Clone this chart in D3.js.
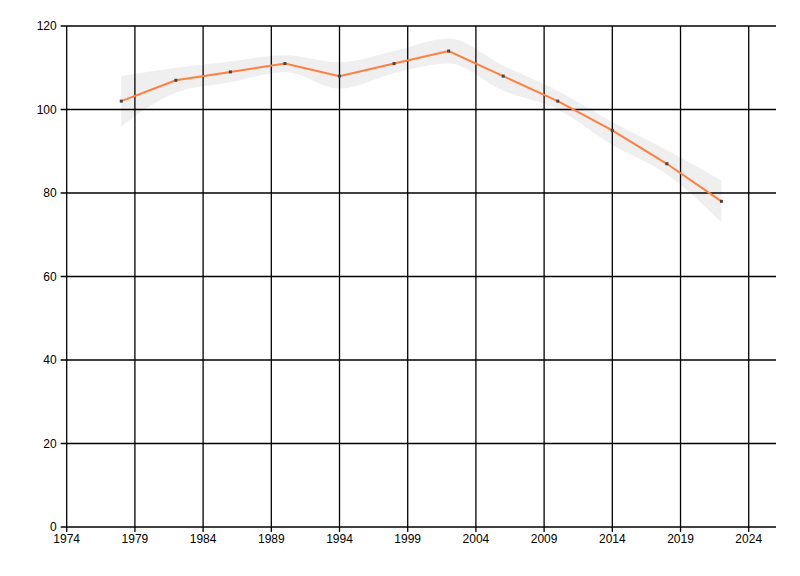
<!DOCTYPE html>
<html><head><meta charset="utf-8">
<script src="https://cdn.jsdelivr.net/npm/d3@7"></script>
<style>body{margin:0;background:#fff}svg{display:block}text{font-family:"Liberation Sans",Arial,sans-serif;font-size:12px;fill:#000}</style>
</head><body><svg id="c" width="800" height="576"></svg>
<script>
const years = [1978,1982,1986,1990,1994,1998,2002,2006,2010,2014,2018,2022];
const values = [102,107,109,111,108,111,114,108,102,95,87,78];
const upper = [108,110,111.5,113,111.3,114,117,110.5,104.5,97,90.3,83];
const lower = [96,104,106.5,109,105,108.7,111,104.5,100,91.5,84.5,73];
const xTicks = [1974,1979,1984,1989,1994,1999,2004,2009,2014,2019,2024];
const yTicks = [0,20,40,60,80,100,120];

const svg = d3.select("#c");
const m = {l:66.7, r:776, t:26, b:527};
const x = d3.scaleLinear().domain([1974,2026]).range([m.l,m.r]);
const y = d3.scaleLinear().domain([0,120]).range([m.b,m.t]);

// band
const band = years.map((yr,i)=>({x:yr,u:upper[i],l:lower[i]}));
svg.append("path").datum(band)
  .attr("fill","#efefef")
  .attr("d", d3.area().curve(d3.curveMonotoneX).x(d=>x(d.x)).y0(d=>y(d.l)).y1(d=>y(d.u)));

// grid
const g = svg.append("g").attr("stroke","#000").attr("stroke-width",1.3);
xTicks.forEach(t=>g.append("line").attr("x1",x(t)).attr("x2",x(t)).attr("y1",m.t).attr("y2",m.b+5));
yTicks.forEach(t=>g.append("line").attr("x1",m.l-6).attr("x2",m.r).attr("y1",y(t)).attr("y2",y(t)));

// axes labels
svg.append("g").selectAll("text").data(xTicks).join("text")
  .attr("x",d=>x(d)).attr("y",m.b+16).attr("text-anchor","middle").text(d=>d);
svg.append("g").selectAll("text").data(yTicks).join("text")
  .attr("x",m.l-10).attr("y",d=>y(d)+4).attr("text-anchor","end").text(d=>d);

// line
const pts = years.map((yr,i)=>({x:yr,v:values[i]}));
svg.append("path").datum(pts).attr("fill","none").attr("stroke","#ff7f3f").attr("stroke-width",2)
  .attr("d", d3.line().x(d=>x(d.x)).y(d=>y(d.v)));
svg.append("g").selectAll("rect").data(pts).join("rect")
  .attr("x",d=>x(d.x)-1.5).attr("y",d=>y(d.v)-1.5).attr("width",3).attr("height",3).attr("fill","#444");
</script></body></html>
